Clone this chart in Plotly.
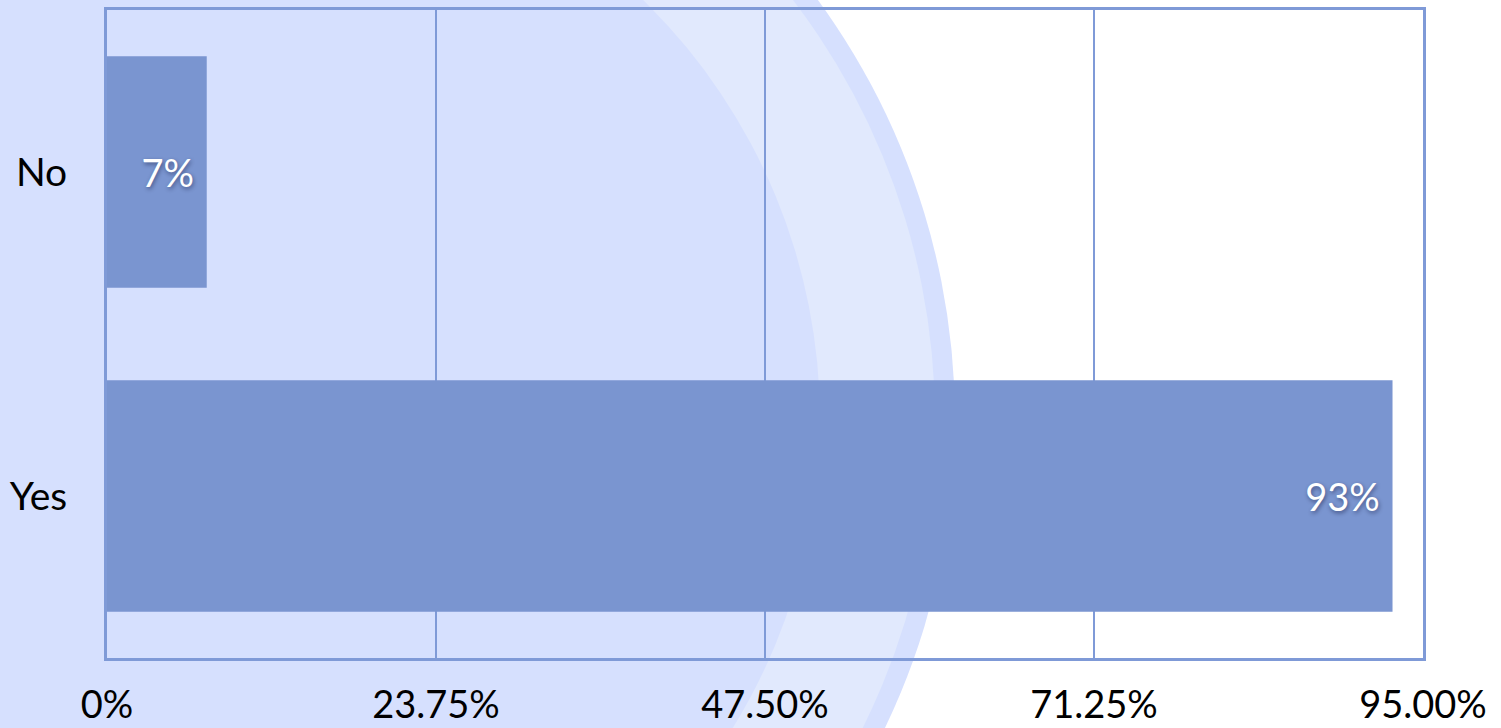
import plotly.graph_objects as go

# ---- data ----
categories = ["Yes", "No"]
values = [92.8, 7.2]
value_labels = ["93%", "7%"]
tick_values = [0, 23.75, 47.5, 71.25, 95]
tick_labels = ["0%", "23.75%", "47.50%", "71.25%", "95.00%"]

W, H = 1501, 728
ML, MR, MT, MB = 107, 78, 10, 70
PW, PH = W - ML - MR, H - MT - MB

def px2paper_x(px):
    return (px - ML) / PW

def px2paper_y(py):
    return (H - MB - py) / PH

def circle(cx, cy, r, color):
    return dict(type="circle", xref="paper", yref="paper", layer="below",
                x0=px2paper_x(cx - r), x1=px2paper_x(cx + r),
                y0=px2paper_y(cy + r), y1=px2paper_y(cy - r),
                fillcolor=color, line=dict(width=0))

bar_color = "#7A95D0"
frame_color = "#7F9AD7"
font_family = "Lato, 'Open Sans', sans-serif"

fig = go.Figure()
fig.add_trace(go.Bar(
    y=categories, x=values, orientation="h",
    marker=dict(color=bar_color, line=dict(width=0)),
    width=0.715,
    text=[t + "&nbsp;" for t in value_labels],
    textposition="inside", insidetextanchor="end",
    textfont=dict(color="white", size=38, family=font_family,
                  shadow="1px 2px 4px rgba(0,0,40,0.45)"),
    hoverinfo="skip", cliponaxis=False,
))

fig.update_layout(
    width=W, height=H,
    margin=dict(l=ML, r=MR, t=MT, b=MB, autoexpand=False),
    paper_bgcolor="white",
    plot_bgcolor="rgba(0,0,0,0)",
    showlegend=False,
    font=dict(family=font_family, color="black", size=38),
    shapes=[
        circle(243, 420, 712, "#D6E0FE"),
        circle(243, 420, 692, "#E1E9FD"),
        circle(233, 420, 587, "#D6E0FE"),
    ],
    xaxis=dict(
        range=[0, 95], tickvals=tick_values, ticktext=tick_labels,
        showgrid=True, gridcolor=frame_color, gridwidth=1.5,
        zeroline=False, showline=True, linecolor=frame_color, linewidth=3,
        mirror=True, ticks="", ticklabelstandoff=11, automargin=False,
        tickfont=dict(size=38, color="black", family=font_family),
        fixedrange=True,
    ),
    yaxis=dict(
        showgrid=False, zeroline=False, showline=True, linecolor=frame_color,
        linewidth=3, mirror=True, ticks="", ticklabelstandoff=29, automargin=False,
        tickfont=dict(size=39, color="black", family=font_family),
        fixedrange=True,
    ),
)

fig.write_html(
    "out.html",
    config={"displayModeBar": False, "staticPlot": True},
    post_script="document.body.style.margin='0';document.body.style.overflow='hidden';",
)
